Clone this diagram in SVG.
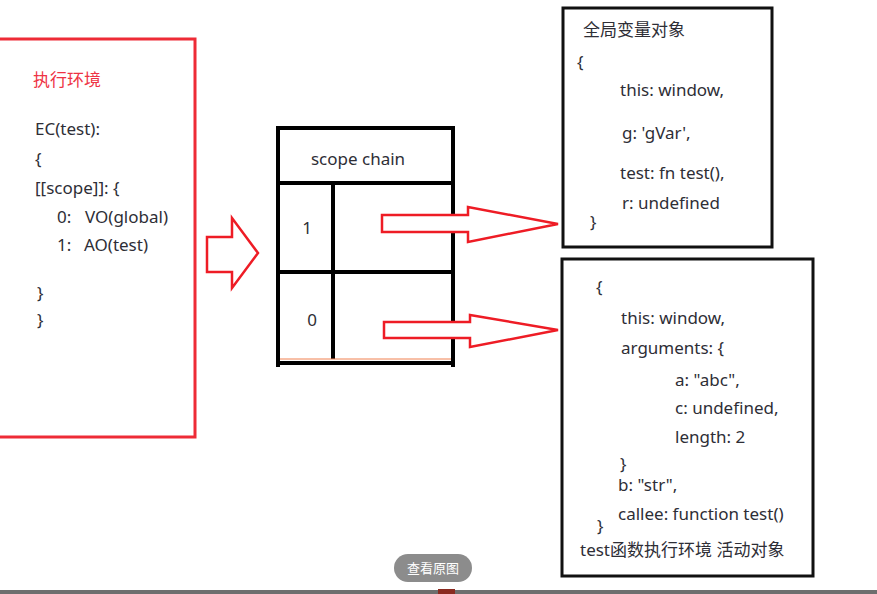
<svg xmlns="http://www.w3.org/2000/svg" width="877" height="594" viewBox="0 0 877 594">
<style>
.t{font-family:"Noto Sans","Noto Sans CJK SC",sans-serif;font-size:17px;fill:#2e2e36;}
.red{fill:#ee3344;}
.blk{fill:none;stroke:#000;stroke-width:4;}
.box{fill:#fff;stroke:#111;stroke-width:3;}
.arr{fill:#fff;stroke:#ee1c25;stroke-width:2.5;stroke-linejoin:miter;}
</style>
<rect width="877" height="594" fill="#fff"/>
<g id="exec-env">
<rect x="-10" y="39" width="205" height="398" fill="none" stroke="#ee2b36" stroke-width="3"/>
<text class="t red" x="33" y="86">执行环境</text>
<text class="t" x="35" y="135">EC(test):</text>
<text class="t" x="35" y="165">{</text>
<text class="t" x="35" y="194">[[scope]]: {</text>
<text class="t" x="57" y="223">0:</text>
<text class="t" x="85" y="223">VO(global)</text>
<text class="t" x="57" y="251">1:</text>
<text class="t" x="84" y="251">AO(test)</text>
<text class="t" x="37" y="299">}</text>
<text class="t" x="37" y="326">}</text>
</g>
<g id="scope-chain">
<rect x="278" y="128" width="175" height="235" fill="#fff" stroke="none"/>
<line x1="333" y1="183" x2="333" y2="359" stroke="#000" stroke-width="4"/>
<line x1="278" y1="183" x2="453" y2="183" stroke="#000" stroke-width="4"/>
<line x1="278" y1="272" x2="453" y2="272" stroke="#000" stroke-width="4"/>
<line x1="280" y1="359" x2="451" y2="359" stroke="#f08050" stroke-width="1"/>
<path class="blk" d="M278,367 V128 H453 V367 M276,363 H455"/>
<text class="t" x="358" y="165" text-anchor="middle">scope chain</text>
<text class="t" x="307" y="234" text-anchor="middle">1</text>
<text class="t" x="312" y="326" text-anchor="middle">0</text>
</g>
<g id="global-vo">
<rect class="box" x="563" y="8" width="209" height="239"/>
<text class="t" x="583" y="36">全局变量对象</text>
<text class="t" x="577" y="68">{</text>
<text class="t" x="620" y="96">this: window,</text>
<text class="t" x="622" y="139">g: 'gVar',</text>
<text class="t" x="620" y="179">test: fn test(),</text>
<text class="t" x="622" y="209">r: undefined</text>
<text class="t" x="590" y="228">}</text>
</g>
<g id="test-ao">
<rect class="box" x="562" y="259" width="251" height="317"/>
<text class="t" x="596" y="293">{</text>
<text class="t" x="621" y="324">this: window,</text>
<text class="t" x="621" y="354">arguments: {</text>
<text class="t" x="675" y="386">a: "abc",</text>
<text class="t" x="675" y="414">c: undefined,</text>
<text class="t" x="675" y="443">length: 2</text>
<text class="t" x="620" y="470">}</text>
<text class="t" x="618" y="491">b: "str",</text>
<text class="t" x="618" y="520">callee: function test()</text>
<text class="t" x="597" y="532">}</text>
<text class="t" x="580" y="556">test函数执行环境 活动对象</text>
</g>
<g id="connectors">
<path class="arr" d="M207,237 H232 V218 L258,253 L232,288 V272 H207 Z"/>
<path class="arr" d="M382,215 H468 V207 L558,224 L468,242 V232 H382 Z"/>
<path class="arr" d="M384,322 H470 V315 L558,330 L470,347 V338 H384 Z"/>
</g>
<g id="ui">
<rect x="394" y="554" width="78" height="28" rx="14" fill="#8c8c8c"/>
<text x="433" y="573" text-anchor="middle" style="font-family:'Noto Sans CJK SC',sans-serif;font-size:13px;fill:#fff">查看原图</text>
<rect x="0" y="590" width="877" height="4" fill="#6e6e6e"/>
<rect x="438" y="589" width="17" height="5" fill="#8a2a20"/>
</g>
</svg>
